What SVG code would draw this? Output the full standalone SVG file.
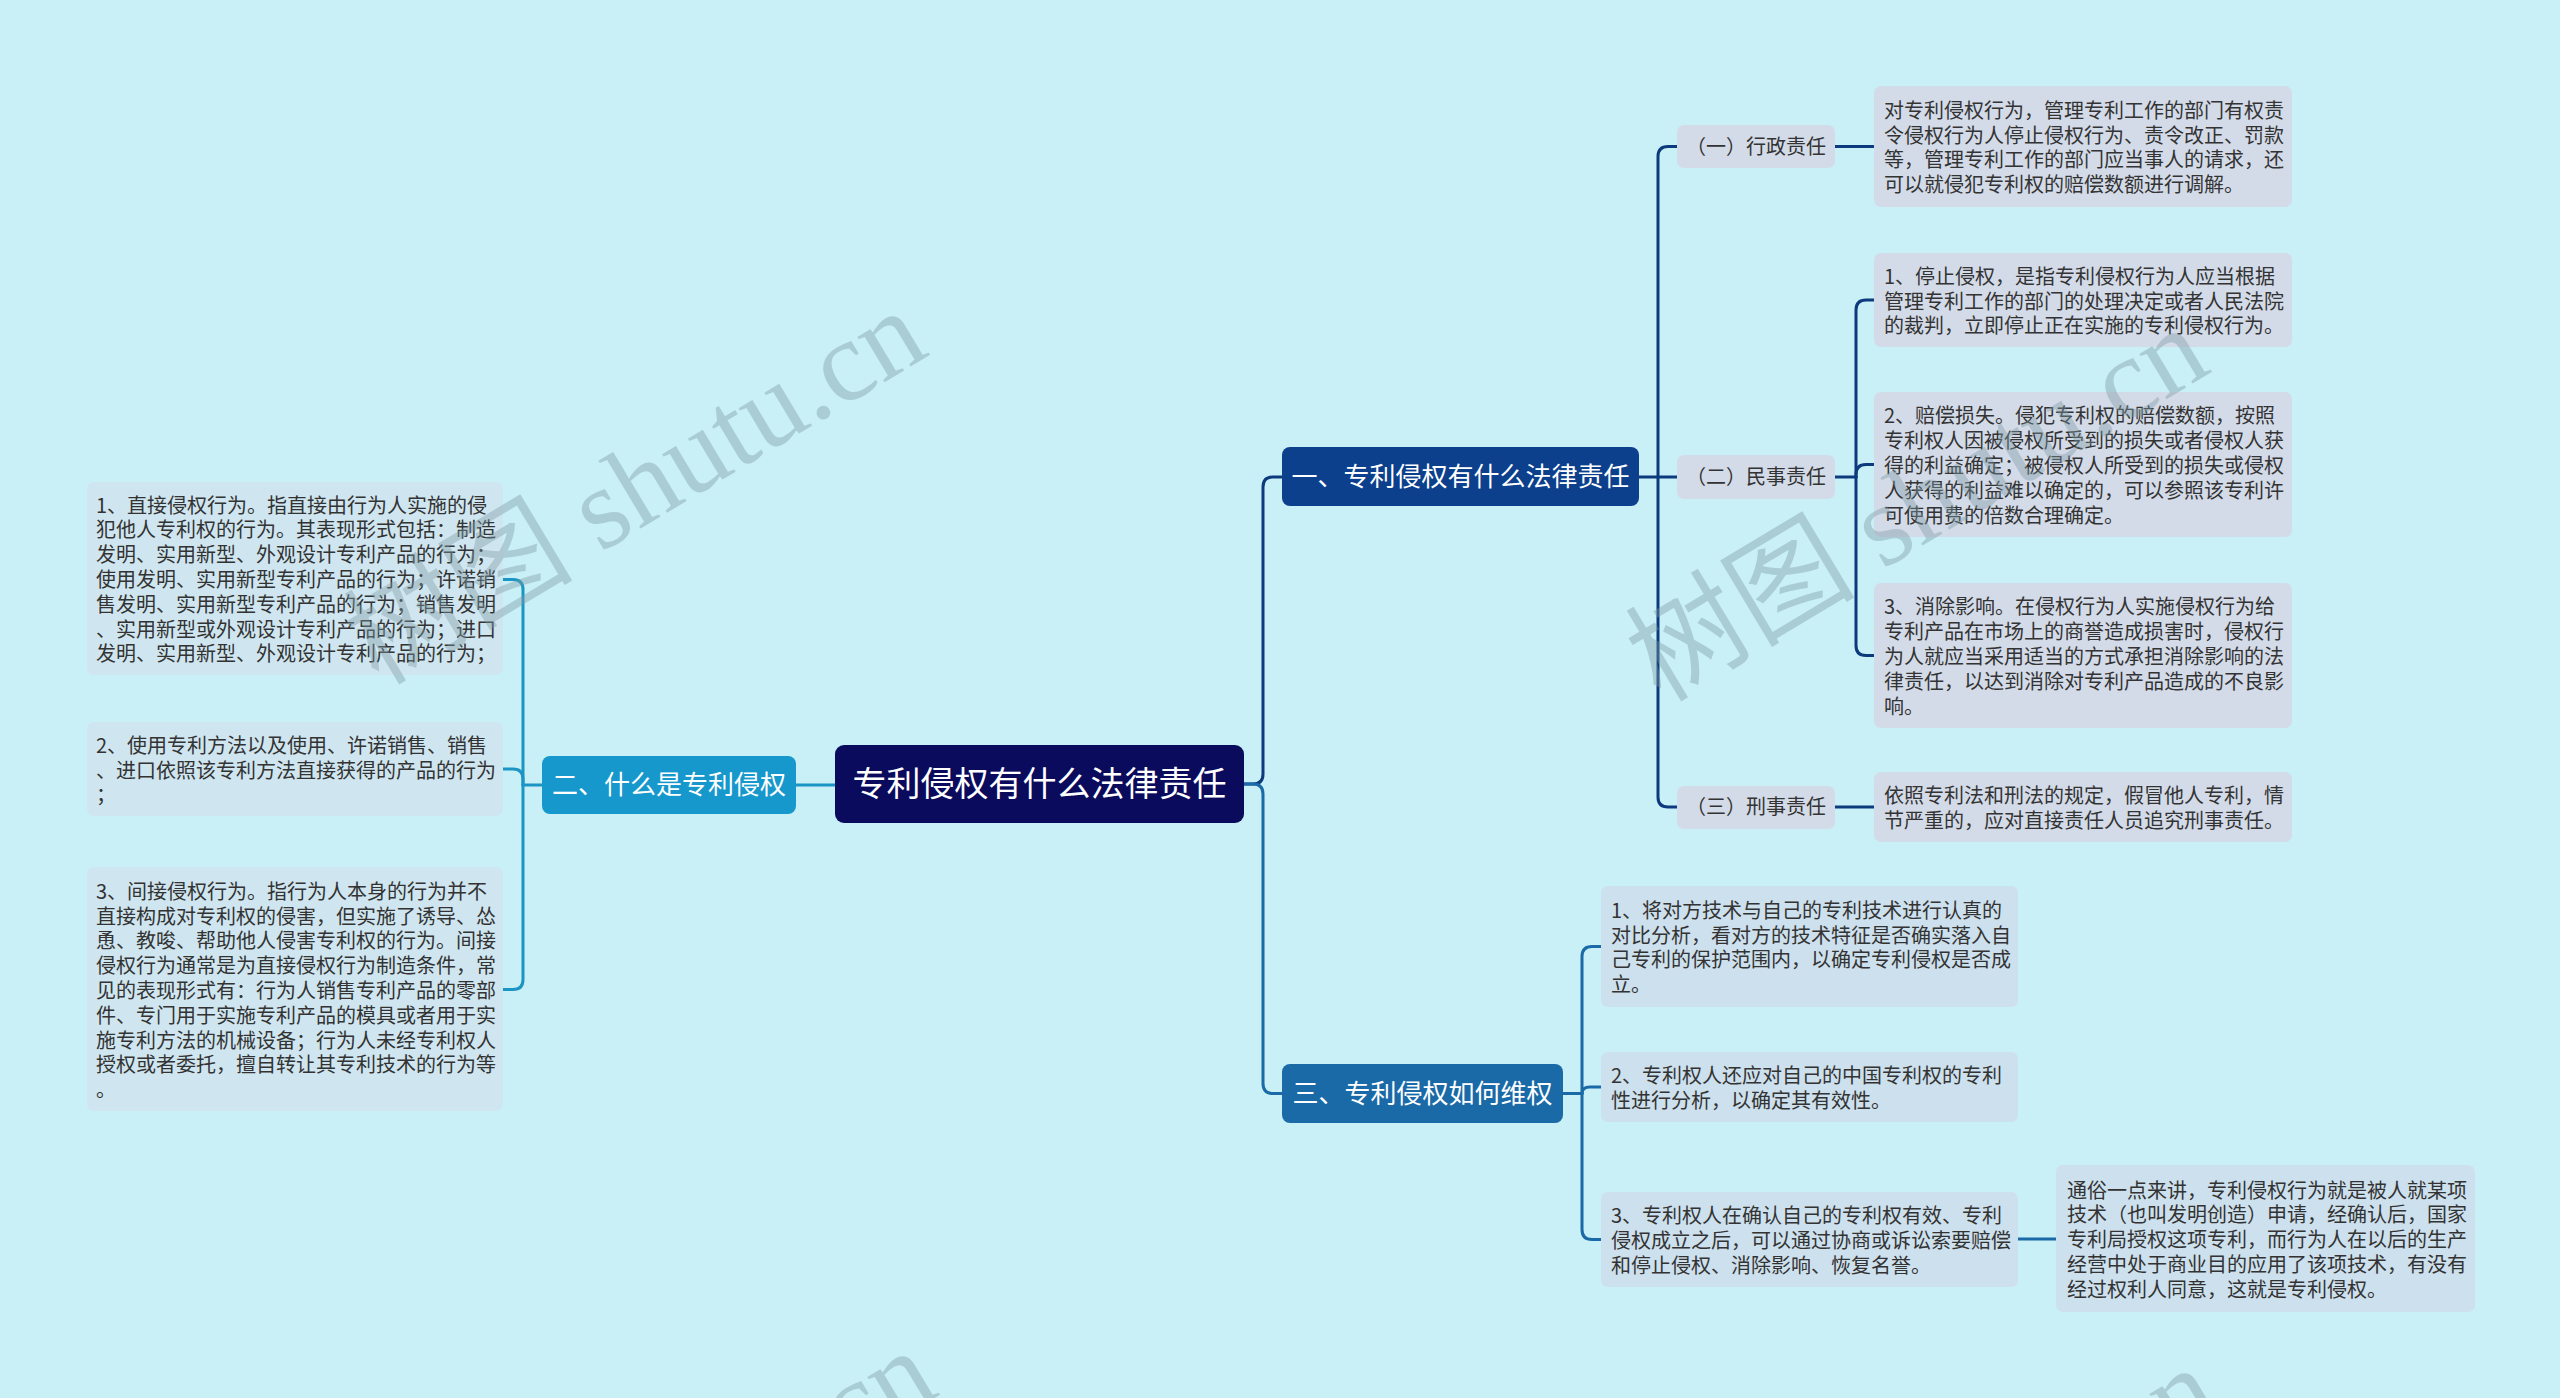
<svg xmlns="http://www.w3.org/2000/svg" width="2560" height="1398" viewBox="0 0 2560 1398">
<style>
.t{font-family:"Noto Sans CJK SC","Liberation Sans",sans-serif;}
.leaf{font-size:20px;fill:#333333;}
.br{font-size:26px;fill:#ffffff;text-anchor:middle;}
.rt{font-size:34px;fill:#ffffff;text-anchor:middle;}
.sub{font-size:20px;fill:#333333;text-anchor:middle;}
.c{fill:none;stroke-width:3;stroke-linecap:round;}
.c1{stroke:#0d3a7c;}
.c2{stroke:#1b95c3;}
.c3{stroke:#1a6aa8;}
.lf1{fill:#d3dbe8;}
.lf2{fill:#cfe6f0;}
.lf3{fill:#cde0ed;}
.wm{font-family:"Liberation Serif","Noto Sans CJK SC",serif;font-size:115px;fill:#7d9aa3;opacity:0.4;text-anchor:middle;}
</style>
<rect x="0" y="0" width="2560" height="1398" fill="#c9eff7"/>

<g id="connectors">
  <path class="c c1" d="M1244,784 L1253,784 Q1263,784 1263,774 L1263,487 Q1263,477 1273,477 L1282,477"/>
  <path class="c c3" d="M1244,784 L1253,784 Q1263,784 1263,794 L1263,1083.5 Q1263,1093.5 1273,1093.5 L1282,1093.5"/>
  <path class="c c2" d="M835,785 L796,785"/>
  <path class="c c1" d="M1639,477 L1677,477"/>
  <path class="c c1" d="M1658,477 L1658,156.5 Q1658,146.5 1668,146.5 L1677,146.5"/>
  <path class="c c1" d="M1658,477 L1658,797 Q1658,807 1668,807 L1677,807"/>
  <path class="c c1" d="M1835,146.5 L1874,146.5"/>
  <path class="c c1" d="M1835,807 L1874,807"/>
  <path class="c c1" d="M1835,477 L1856,477"/>
  <path class="c c1" d="M1856,477 L1856,310 Q1856,300 1866,300 L1874,300"/>
  <path class="c c1" d="M1856,477 L1856,474.5 Q1856,464.5 1866,464.5 L1874,464.5"/>
  <path class="c c1" d="M1856,477 L1856,645.5 Q1856,655.5 1866,655.5 L1874,655.5"/>
  <path class="c c3" d="M1563,1093.5 L1582,1093.5"/>
  <path class="c c3" d="M1582,1093.5 L1582,956.5 Q1582,946.5 1592,946.5 L1601,946.5"/>
  <path class="c c3" d="M1582,1093.5 Q1582,1087 1590,1087 L1601,1087"/>
  <path class="c c3" d="M1582,1093.5 L1582,1229.5 Q1582,1239.5 1592,1239.5 L1601,1239.5"/>
  <path class="c c3" d="M2018,1239 L2056,1239"/>
  <path class="c c2" d="M542,785 L523,785"/>
  <path class="c c2" d="M523,785 L523,589.5 Q523,579.5 513,579.5 L503,579.5"/>
  <path class="c c2" d="M523,785 L523,779 Q523,769 513,769 L503,769"/>
  <path class="c c2" d="M523,785 L523,979.5 Q523,989.5 513,989.5 L503,989.5"/>
</g>

<g id="root">
  <rect x="835" y="745" width="409" height="78" rx="9" fill="#0a0b5c"/>
  <text class="t rt" x="1039.5" y="796">专利侵权有什么法律责任</text>
</g>

<g id="branch1">
  <rect x="1282" y="447" width="357" height="59" rx="8" fill="#0c3f8c"/>
  <text class="t br" x="1460.5" y="486">一、专利侵权有什么法律责任</text>
</g>
<g id="branch2">
  <rect x="542" y="756" width="254" height="58" rx="8" fill="#1798cc"/>
  <text class="t br" x="669" y="794">二、什么是专利侵权</text>
</g>
<g id="branch3">
  <rect x="1282" y="1064" width="281" height="59" rx="8" fill="#1a6aa8"/>
  <text class="t br" x="1422.5" y="1103">三、专利侵权如何维权</text>
</g>

<g id="sub1">
  <rect x="1677" y="125" width="158" height="43" rx="7" class="lf1"/>
  <text class="t sub" x="1756" y="153.5">（一）行政责任</text>
</g>
<g id="sub2">
  <rect x="1677" y="455" width="158" height="44" rx="7" class="lf1"/>
  <text class="t sub" x="1756" y="484">（二）民事责任</text>
</g>
<g id="sub3">
  <rect x="1677" y="786" width="158" height="43" rx="7" class="lf1"/>
  <text class="t sub" x="1756" y="814">（三）刑事责任</text>
</g>

<g id="leaf1a">
  <rect x="1874" y="86" width="418" height="121" rx="7" class="lf1"/>
  <text class="t leaf"><tspan x="1884" y="117.8">对专利侵权行为，管理专利工作的部门有权责</tspan><tspan x="1884" y="142.6">令侵权行为人停止侵权行为、责令改正、罚款</tspan><tspan x="1884" y="167.4">等，管理专利工作的部门应当事人的请求，还</tspan><tspan x="1884" y="192.2">可以就侵犯专利权的赔偿数额进行调解。</tspan></text>
</g>
<g id="leaf2a">
  <rect x="1874" y="253" width="418" height="94" rx="7" class="lf1"/>
  <text class="t leaf"><tspan x="1884" y="283.7">1、停止侵权，是指专利侵权行为人应当根据</tspan><tspan x="1884" y="308.5">管理专利工作的部门的处理决定或者人民法院</tspan><tspan x="1884" y="333.3">的裁判，立即停止正在实施的专利侵权行为。</tspan></text>
</g>
<g id="leaf2b">
  <rect x="1874" y="392" width="418" height="145" rx="7" class="lf1"/>
  <text class="t leaf"><tspan x="1884" y="423.4">2、赔偿损失。侵犯专利权的赔偿数额，按照</tspan><tspan x="1884" y="448.2">专利权人因被侵权所受到的损失或者侵权人获</tspan><tspan x="1884" y="473">得的利益确定；被侵权人所受到的损失或侵权</tspan><tspan x="1884" y="497.8">人获得的利益难以确定的，可以参照该专利许</tspan><tspan x="1884" y="522.6">可使用费的倍数合理确定。</tspan></text>
</g>
<g id="leaf2c">
  <rect x="1874" y="583" width="418" height="145" rx="7" class="lf1"/>
  <text class="t leaf"><tspan x="1884" y="614.4">3、消除影响。在侵权行为人实施侵权行为给</tspan><tspan x="1884" y="639.2">专利产品在市场上的商誉造成损害时，侵权行</tspan><tspan x="1884" y="664">为人就应当采用适当的方式承担消除影响的法</tspan><tspan x="1884" y="688.8">律责任，以达到消除对专利产品造成的不良影</tspan><tspan x="1884" y="713.6">响。</tspan></text>
</g>
<g id="leaf3a">
  <rect x="1874" y="772" width="418" height="70" rx="7" class="lf1"/>
  <text class="t leaf"><tspan x="1884" y="803.1">依照专利法和刑法的规定，假冒他人专利，情</tspan><tspan x="1884" y="827.9">节严重的，应对直接责任人员追究刑事责任。</tspan></text>
</g>

<g id="leafB3a">
  <rect x="1601" y="886" width="417" height="121" rx="7" class="lf3"/>
  <text class="t leaf"><tspan x="1611" y="917.8">1、将对方技术与自己的专利技术进行认真的</tspan><tspan x="1611" y="942.6">对比分析，看对方的技术特征是否确实落入自</tspan><tspan x="1611" y="967.4">己专利的保护范围内，以确定专利侵权是否成</tspan><tspan x="1611" y="992.2">立。</tspan></text>
</g>
<g id="leafB3b">
  <rect x="1601" y="1052" width="417" height="70" rx="7" class="lf3"/>
  <text class="t leaf"><tspan x="1611" y="1083.1">2、专利权人还应对自己的中国专利权的专利</tspan><tspan x="1611" y="1107.9">性进行分析，以确定其有效性。</tspan></text>
</g>
<g id="leafB3c">
  <rect x="1601" y="1192" width="417" height="95" rx="7" class="lf3"/>
  <text class="t leaf"><tspan x="1611" y="1223.2">3、专利权人在确认自己的专利权有效、专利</tspan><tspan x="1611" y="1248">侵权成立之后，可以通过协商或诉讼索要赔偿</tspan><tspan x="1611" y="1272.8">和停止侵权、消除影响、恢复名誉。</tspan></text>
</g>
<g id="leafB3c1">
  <rect x="2056" y="1165" width="419" height="147" rx="7" class="lf3"/>
  <text class="t leaf"><tspan x="2067" y="1197.5">通俗一点来讲，专利侵权行为就是被人就某项</tspan><tspan x="2067" y="1222.2">技术（也叫发明创造）申请，经确认后，国家</tspan><tspan x="2067" y="1247">专利局授权这项专利，而行为人在以后的生产</tspan><tspan x="2067" y="1271.8">经营中处于商业目的应用了该项技术，有没有</tspan><tspan x="2067" y="1296.6">经过权利人同意，这就是专利侵权。</tspan></text>
</g>

<g id="leafA1">
  <rect x="87" y="482" width="416" height="193" rx="7" class="lf2"/>
  <text class="t leaf"><tspan x="96" y="512.6">1、直接侵权行为。指直接由行为人实施的侵</tspan><tspan x="96" y="537.4">犯他人专利权的行为。其表现形式包括：制造</tspan><tspan x="96" y="562.2">发明、实用新型、外观设计专利产品的行为；</tspan><tspan x="96" y="587">使用发明、实用新型专利产品的行为；许诺销</tspan><tspan x="96" y="611.8">售发明、实用新型专利产品的行为；销售发明</tspan><tspan x="96" y="636.6">、实用新型或外观设计专利产品的行为；进口</tspan><tspan x="96" y="661.4">发明、实用新型、外观设计专利产品的行为；</tspan></text>
</g>
<g id="leafA2">
  <rect x="87" y="722" width="416" height="94" rx="7" class="lf2"/>
  <text class="t leaf"><tspan x="96" y="752.7">2、使用专利方法以及使用、许诺销售、销售</tspan><tspan x="96" y="777.5">、进口依照该专利方法直接获得的产品的行为</tspan><tspan x="96" y="802.3">；</tspan></text>
</g>
<g id="leafA3">
  <rect x="87" y="867" width="416" height="244" rx="7" class="lf2"/>
  <text class="t leaf"><tspan x="96" y="898.8">3、间接侵权行为。指行为人本身的行为并不</tspan><tspan x="96" y="923.6">直接构成对专利权的侵害，但实施了诱导、怂</tspan><tspan x="96" y="948.4">恿、教唆、帮助他人侵害专利权的行为。间接</tspan><tspan x="96" y="973.2">侵权行为通常是为直接侵权行为制造条件，常</tspan><tspan x="96" y="998">见的表现形式有：行为人销售专利产品的零部</tspan><tspan x="96" y="1022.8">件、专门用于实施专利产品的模具或者用于实</tspan><tspan x="96" y="1047.6">施专利方法的机械设备；行为人未经专利权人</tspan><tspan x="96" y="1072.4">授权或者委托，擅自转让其专利技术的行为等</tspan><tspan x="96" y="1097.2">。</tspan></text>
</g>

<g id="watermarks">
  <text class="wm" transform="translate(655,520) rotate(-31)">树图 shutu.cn</text>
  <text class="wm" transform="translate(1937,537) rotate(-31)">树图 shutu.cn</text>
  <text class="wm" transform="translate(665,1560) rotate(-31)">树图 shutu.cn</text>
  <text class="wm" transform="translate(1947,1577) rotate(-31)">树图 shutu.cn</text>
</g>
</svg>
